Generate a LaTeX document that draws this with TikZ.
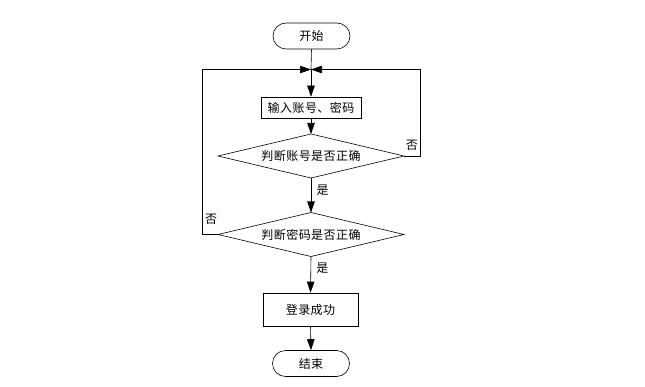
\documentclass[tikz,border=0pt]{standalone}
\usepackage{fontspec}
\newfontfamily\cjk[LetterSpace=4]{Noto Sans CJK SC}
\usetikzlibrary{arrows.meta,shapes.geometric,calc}
\begin{document}
\begin{tikzpicture}[x=1pt,y=-1pt,
  font=\cjk\fontsize{12}{14}\selectfont,
  term/.style={draw,rounded corners=13pt,minimum width=77pt,minimum height=26pt,inner sep=0pt},
  procbox/.style={draw,inner sep=0pt},
  flow/.style={-{Triangle[length=11pt,width=7.5pt]},line width=0.6pt},
  every path/.style={line width=0.6pt}]
\useasboundingbox (0,0) rectangle (645,387);
\node[term] (start) at (311.5,36) {开始};
\node[procbox,minimum width=100pt,minimum height=21pt] (input) at (311,107.5) {输入账号、密码};
\path[draw] (218,156) -- (311,134) -- (404,156) -- (311,178) -- cycle;
\coordinate (d1t) at (311,134);
\coordinate (d1b) at (311,178);
\coordinate (d1l) at (218,156);
\coordinate (d1r) at (404,156);
\node (d1text) at (311,156) {判断账号是否正确};
\path[draw] (218,234.5) -- (311,212.5) -- (404,234.5) -- (311,256.5) -- cycle;
\coordinate (d2t) at (311,212.5);
\coordinate (d2b) at (311,256.5);
\coordinate (d2l) at (218,234.5);
\node (d2text) at (311,234.5) {判断密码是否正确};
\node[procbox,minimum width=95pt,minimum height=33pt] (ok) at (310.5,309.5) {登录成功};
\node[term] (stop) at (311,363.5) {结束};
\coordinate (j) at (311,69.5);
\coordinate (jr) at (420.5,69.5);
\coordinate (jl) at (202.5,69.5);
\draw (start.south) -- (j);
\draw[flow] (j) -- (input.north);
\draw[flow] (input.south) -- (d1t);
\draw[flow] (d1b) -- node[right,xshift=2pt,yshift=-2pt,pos=0.3] {是} (d2t);
\draw[flow] (d2b) -- node[right,xshift=2pt,pos=0.32] {是} (ok.north);
\draw[flow] (ok.south) -- (stop.north);
\draw[flow] (d1r) -- (420.5,156) -- node[left,pos=0.12,xshift=1pt] {否} (jr) -- (j);
\draw[flow] (d2l) -- (202.5,234.5) -- node[right,pos=0.09,xshift=-1pt] {否} (jl) -- (j);
\end{tikzpicture}
\end{document}
